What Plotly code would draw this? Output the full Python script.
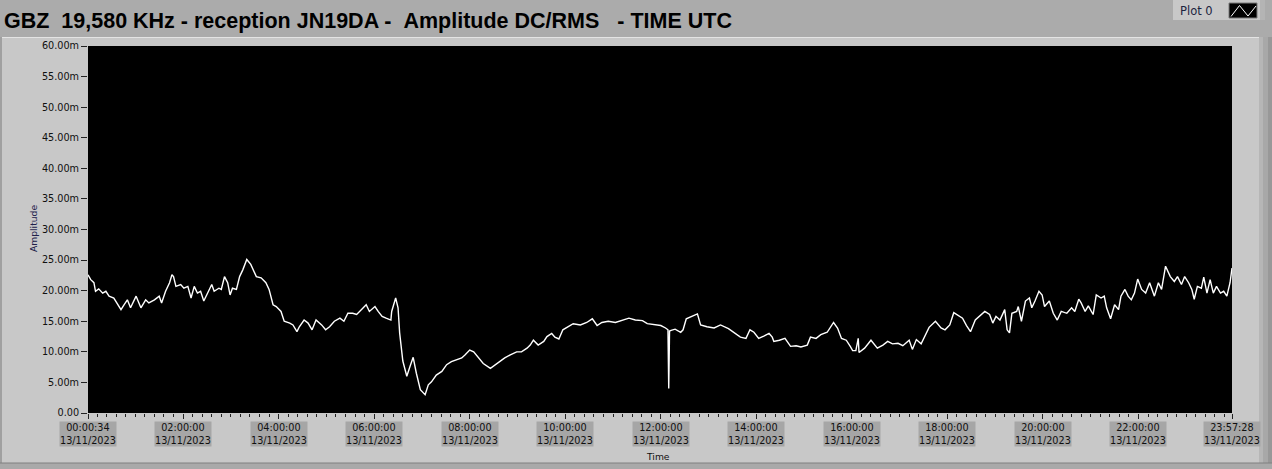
import plotly.graph_objects as go
import pandas as pd

# ---------------- data ----------------
date_str = "2023-11-13"
date_label = "13/11/2023"

minutes = [0.5667, 4, 8, 10, 14, 19, 23, 27, 33, 37, 42, 46, 50, 54, 61, 67, 73, 77, 84, 90,
           93, 98, 103, 106, 108, 111, 117, 121, 126, 130, 134, 138, 142, 146, 151, 156, 159,
           165, 168, 172, 176, 179, 182, 187, 191, 195, 200, 205, 212, 218, 224, 228, 233, 237,
           243, 247, 254, 258, 263, 266, 272, 277, 282, 287, 294, 299, 304, 310, 317, 322, 327,
           333, 338, 344, 350, 354, 361, 365, 370, 375, 381, 382, 387, 390, 392, 396, 401, 405,
           409, 413, 418, 424, 428, 432, 438, 445, 451, 457, 464, 470, 474, 480, 485, 491, 497,
           506, 512, 518, 524, 531, 539, 545, 552, 556, 560, 566, 573, 577, 583, 587, 592, 597,
           602, 610, 619, 627, 634, 640, 646, 654, 663, 671, 680, 688, 697, 703, 711, 720, 726,
           729, 730, 731, 733, 738, 745, 748, 752, 759, 766, 770, 778, 787, 795, 805, 812, 820,
           827, 832, 837, 843, 850, 856, 860, 862, 869, 876, 883, 890, 896, 904, 908, 915, 921,
           929, 937, 942, 947, 953, 958, 961, 965, 968, 969, 976, 984, 992, 999, 1005, 1011,
           1018, 1024, 1028, 1032, 1036, 1041, 1047, 1052, 1057, 1065, 1072, 1077, 1083, 1088,
           1094, 1099, 1104, 1109, 1115, 1122, 1127, 1133, 1137, 1141, 1146, 1152, 1155, 1158,
           1161, 1167, 1169, 1173, 1178, 1183, 1186, 1190, 1195, 1199, 1202, 1208, 1213, 1218,
           1223, 1230, 1236, 1240, 1245, 1248, 1253, 1257, 1263, 1267, 1273, 1277, 1280, 1285,
           1290, 1295, 1298, 1303, 1307, 1311, 1315, 1319, 1324, 1329, 1334, 1340, 1345, 1349,
           1354, 1360, 1365, 1369, 1374, 1378, 1383, 1387, 1390, 1394, 1399, 1402, 1406, 1410,
           1414, 1418, 1423, 1427, 1431, 1435, 1437.4667]

amplitude_m = [22.6, 21.8, 21.3, 19.9, 20.3, 19.6, 19.9, 19.1, 18.8, 18.0, 16.9, 17.7, 18.5, 17.2,
               19.1, 17.2, 18.5, 18.0, 18.5, 19.1, 18.0, 19.9, 21.3, 22.6, 22.3, 20.7, 21.0, 20.4,
               20.7, 18.8, 20.7, 19.6, 19.9, 18.3, 19.6, 21.0, 19.9, 20.4, 20.2, 22.3, 21.3, 19.3,
               20.4, 20.2, 22.3, 23.4, 25.1, 24.3, 22.3, 22.1, 21.3, 20.2, 17.7, 17.4, 16.6, 15.0,
               14.7, 14.4, 13.3, 14.1, 15.2, 14.7, 13.6, 15.2, 14.4, 13.6, 14.1, 15.0, 15.5, 15.0,
               16.3, 16.3, 16.1, 16.9, 17.7, 16.6, 17.4, 16.6, 15.8, 15.5, 15.2, 16.6, 18.8, 17.2,
               13.1, 8.5, 6.0, 7.6, 9.1, 6.5, 3.8, 3.0, 4.6, 5.1, 6.2, 6.8, 7.9, 8.4, 8.7, 9.0,
               9.5, 10.3, 10.0, 9.0, 8.1, 7.3, 7.9, 8.4, 9.0, 9.5, 10.0, 10.0, 10.6, 11.1, 11.9,
               11.1, 11.7, 12.5, 13.0, 12.4, 12.1, 13.6, 14.0, 14.6, 14.4, 14.8, 15.4, 14.3, 14.8,
               15.0, 14.8, 15.1, 15.5, 15.2, 15.1, 14.6, 14.4, 14.3, 13.9, 13.6, 4.0, 13.4, 13.5,
               13.7, 13.2, 13.6, 15.4, 15.8, 16.2, 14.4, 14.1, 13.9, 14.4, 13.8, 13.1, 12.4, 12.2,
               13.6, 13.2, 12.2, 12.6, 13.0, 12.4, 11.7, 11.9, 12.2, 10.9, 11.0, 10.8, 11.1, 12.4,
               12.2, 12.8, 13.2, 14.8, 13.9, 12.2, 11.9, 10.9, 10.2, 10.2, 12.2, 9.9, 10.6, 11.9,
               10.6, 11.1, 11.7, 11.3, 11.4, 11.0, 11.4, 11.9, 10.4, 12.0, 11.3, 12.8, 14.0, 15.0,
               13.9, 13.6, 14.4, 16.4, 15.9, 15.5, 14.3, 13.3, 15.2, 16.1, 16.6, 16.1, 14.7, 15.8,
               15.2, 16.9, 13.6, 13.1, 16.3, 16.6, 17.4, 15.0, 18.3, 18.8, 17.2, 18.3, 19.9, 19.3,
               17.4, 18.3, 16.3, 15.2, 16.6, 16.3, 17.2, 16.6, 18.6, 18.0, 16.6, 17.5, 16.1, 19.3,
               18.8, 19.1, 17.2, 15.4, 17.7, 16.9, 19.1, 20.2, 19.1, 18.5, 19.6, 21.9, 20.2, 19.6,
               21.3, 19.1, 21.3, 20.2, 24.0, 22.3, 21.5, 22.3, 21.0, 22.3, 21.3, 20.2, 18.6, 20.7,
               20.4, 22.2, 19.6, 21.8, 19.6, 20.7, 19.6, 19.9, 19.1, 21.3, 23.7]

y_ticks = [0, 5, 10, 15, 20, 25, 30, 35, 40, 45, 50, 55, 60]
x_tick_times = ["00:00:34", "02:00:00", "04:00:00", "06:00:00", "08:00:00", "10:00:00",
                "12:00:00", "14:00:00", "16:00:00", "18:00:00", "20:00:00", "22:00:00",
                "23:57:28"]

title_text = "GBZ\u00a0\u00a019,580 KHz - reception JN19DA -\u00a0\u00a0Amplitude DC/RMS\u00a0\u00a0\u00a0- TIME UTC"

# ---------------- layout geometry ----------------
W, H = 1272, 469
L, R, T, B = 88, 40, 46, 56
PW = W - L - R
PH = H - T - B


def px(x):
    return (x - L) / PW


def py(y):
    return (H - B - y) / PH


base = pd.Timestamp(date_str)
times = [base + pd.Timedelta(minutes=m) for m in minutes]
tick_ts = [base + pd.Timedelta(t) for t in x_tick_times]

fig = go.Figure()
fig.add_trace(go.Scatter(x=times, y=amplitude_m, mode="lines",
                         line=dict(color="white", width=1.4), showlegend=False,
                         name="Plot 0"))

TICKFONT = dict(family="DejaVu Sans", size=9.7, color="#101010")

shapes = []
# top title bar
shapes.append(dict(type="rect", xref="paper", yref="paper", x0=px(0), x1=px(W), y0=py(37), y1=py(0),
                   fillcolor="#ababab", line=dict(width=0), layer="below"))
# panel top highlight
shapes.append(dict(type="line", xref="paper", yref="paper", x0=px(0), x1=px(1259), y0=py(37.5), y1=py(37.5),
                   line=dict(color="#e4e4e4", width=1), layer="below"))
# left edge
shapes.append(dict(type="rect", xref="paper", yref="paper", x0=px(0), x1=px(2), y0=py(H), y1=py(37),
                   fillcolor="#a0a0a0", line=dict(width=0), layer="below"))
# right strips
for x0, x1, c in [(1259, 1263, "#b6b6b6"), (1263, 1268, "#a8a8a8"), (1268, 1272, "#989898")]:
    shapes.append(dict(type="rect", xref="paper", yref="paper", x0=px(x0), x1=px(x1), y0=py(H), y1=py(37),
                       fillcolor=c, line=dict(width=0), layer="below"))
# bottom strip
shapes.append(dict(type="rect", xref="paper", yref="paper", x0=px(0), x1=px(W), y0=py(H), y1=py(463),
                   fillcolor="#a9a9a9", line=dict(width=0), layer="below"))
shapes.append(dict(type="line", xref="paper", yref="paper", x0=px(0), x1=px(W), y0=py(463), y1=py(463),
                   line=dict(color="#808080", width=1), layer="below"))
# legend box
shapes.append(dict(type="rect", xref="paper", yref="paper", x0=px(1173), x1=px(1260), y0=py(20), y1=py(0),
                   fillcolor="#c8c8c8", line=dict(width=0), layer="below"))
shapes.append(dict(type="rect", xref="paper", yref="paper", x0=px(1260), x1=px(1265), y0=py(20), y1=py(0),
                   fillcolor="#b4b4b4", line=dict(width=0), layer="below"))
shapes.append(dict(type="rect", xref="paper", yref="paper", x0=px(1229), x1=px(1257), y0=py(18), y1=py(3),
                   fillcolor="black", line=dict(color="#7a7a7a", width=1)))
zig = [(1231, 16.5), (1239.5, 5.5), (1248, 16), (1256, 6)]
path = "M " + " L ".join(f"{px(a)},{py(b)}" for a, b in zig)
shapes.append(dict(type="path", xref="paper", yref="paper", path=path,
                   line=dict(color="white", width=1)))

annotations = []
annotations.append(dict(text=title_text, xref="paper", yref="paper", x=px(2), y=py(21),
                        xanchor="left", yanchor="middle", showarrow=False,
                        font=dict(family="Liberation Sans", size=21.5, color="black", weight="bold")))
annotations.append(dict(text="Plot 0", xref="paper", yref="paper", x=px(1196), y=py(11),
                        xanchor="center", yanchor="middle", showarrow=False,
                        font=dict(family="DejaVu Sans", size=11.5, color="#1c2440")))
for t, ts in zip(x_tick_times, tick_ts):
    annotations.append(dict(text=f"{t}<br>{date_label}", xref="x", yref="paper",
                            x=ts, y=py(421), xanchor="center", yanchor="top", showarrow=False,
                            bgcolor="#a6a6a6", borderpad=0, font=TICKFONT))
annotations.append(dict(text="Time", xref="paper", yref="paper", x=px(657.5), y=py(456),
                        xanchor="center", yanchor="middle", showarrow=False,
                        font=dict(family="DejaVu Sans", size=9.2, color="#101010")))
annotations.append(dict(text="Amplitude", xref="paper", yref="paper", x=px(33), y=py(229),
                        xanchor="center", yanchor="middle", showarrow=False, textangle=-90,
                        font=dict(family="DejaVu Sans", size=9.2, color="#20204a")))

fig.update_layout(
    width=W, height=H,
    margin=dict(l=L, r=R, t=T, b=B, pad=0),
    paper_bgcolor="#c8c8c8",
    plot_bgcolor="black",
    showlegend=False,
    shapes=shapes,
    annotations=annotations,
    xaxis=dict(type="date", range=[tick_ts[0], tick_ts[-1]], tickvals=tick_ts,
               showticklabels=False, ticks="outside", ticklen=5, tickcolor="#222222",
               showgrid=False, zeroline=False, showline=False,
               minor=dict(ticks="outside", ticklen=3, tickcolor="#222222",
                          tick0=date_str, dtick=720000, showgrid=False)),
    yaxis=dict(range=[0, 60], tickvals=y_ticks,
               ticktext=[("0.00" if v == 0 else f"{v:.2f}m") for v in y_ticks],
               ticks="outside", ticklen=6, tickcolor="#222222", tickfont=TICKFONT,
               showgrid=False, zeroline=False, showline=False),
)

fig.write_html("out.html", config={"displayModeBar": False},
               post_script="document.body.style.margin='0px';document.body.style.padding='0px';")
